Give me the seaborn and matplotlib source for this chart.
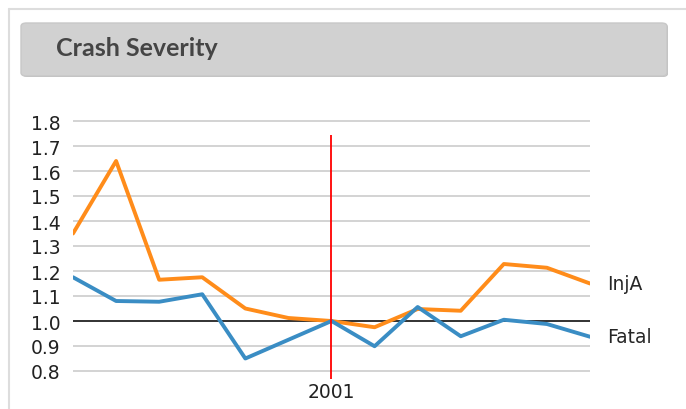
import pandas as pd
import matplotlib.pyplot as plt
import seaborn as sns
from matplotlib.patches import FancyBboxPatch

years = [1995, 1996, 1997, 1998, 1999, 2000, 2001, 2002, 2003, 2004, 2005, 2006, 2007]
inja = [1.35, 1.64, 1.165, 1.175, 1.05, 1.012, 1.0, 0.975, 1.048, 1.041, 1.228, 1.213, 1.15]
fatal = [1.175, 1.08, 1.077, 1.107, 0.85, 0.925, 1.0, 0.899, 1.056, 0.939, 1.005, 0.988, 0.937]
series_names = ["InjA", "Fatal"]
marker_year = 2001
y_ticks = [0.8, 0.9, 1.0, 1.1, 1.2, 1.3, 1.4, 1.5, 1.6, 1.7, 1.8]

df = pd.DataFrame({"year": years * 2,
                   "value": inja + fatal,
                   "series": [series_names[0]] * len(years) + [series_names[1]] * len(years)})

sns.set_style("white")
plt.rcParams["font.family"] = ["DejaVu Sans"]

fig = plt.figure(figsize=(6.86, 4.10), dpi=100)

# outer frame + header panel
fig.add_artist(plt.Line2D([9 / 686, 9 / 686], [0, 1 - 10 / 410], color="#dddddd", lw=1.5))
fig.add_artist(plt.Line2D([9 / 686, 1], [1 - 10 / 410, 1 - 10 / 410], color="#dddddd", lw=1.5))
shadow = FancyBboxPatch((22 / 686, 1 - 78 / 410), (667 - 21) / 686, (77 - 24) / 410,
                        boxstyle="round,pad=0,rounding_size=0.008", transform=fig.transFigure,
                        facecolor="#bdbdbd", edgecolor="none")
fig.add_artist(shadow)
hdr = FancyBboxPatch((21 / 686, 1 - 77 / 410), (667 - 21) / 686, (77 - 24) / 410,
                     boxstyle="round,pad=0,rounding_size=0.008", transform=fig.transFigure,
                     facecolor="#d1d1d1", edgecolor="#c8c8c8", lw=1.0)
fig.add_artist(hdr)
fig.text(56 / 686, 1 - 49 / 410, "Crash Severity", fontsize=18, color="#454545",
         va="center", ha="left", family=["Lato", "DejaVu Sans"], fontweight="bold")

ax = fig.add_axes([73 / 686, (410 - 382) / 410, 517 / 686, 270 / 410])
sns.lineplot(data=df, x="year", y="value", hue="series",
             palette={"InjA": "#ff8c1a", "Fatal": "#3a8dc4"}, lw=2.8, legend=False, ax=ax)

ax.set_xlim(years[0], years[-1])
ax.set_ylim(0.76, 1.84)
for t in y_ticks:
    if t != 1.0:
        ax.axhline(t, color="#d3d3d3", lw=1.4, zorder=0)
ax.axhline(1.0, color="#222222", lw=1.3, zorder=1)
ax.vlines(marker_year, 0.767, 1.745, color="red", lw=1.3, zorder=3)

ax.set_yticks(y_ticks)
ax.set_yticklabels([f"{t:.1f}" for t in y_ticks], fontsize=13.5, color="#222222")
ax.set_xticks([marker_year])
ax.set_xticklabels([str(marker_year)], fontsize=13.5, color="#222222")
ax.tick_params(axis="y", length=0, pad=9)
ax.tick_params(axis="x", length=0, pad=1)
ax.set_xlabel("")
ax.set_ylabel("")
for s in ax.spines.values():
    s.set_visible(False)
ax.patch.set_alpha(0)

ax.annotate(series_names[0], (years[-1], inja[-1]), xytext=(12, 0), textcoords="offset points",
            va="center", fontsize=13.5, annotation_clip=False)
ax.annotate(series_names[1], (years[-1], fatal[-1]), xytext=(12, 0), textcoords="offset points",
            va="center", fontsize=13.5, annotation_clip=False)

fig.savefig("out.png", dpi=100)
